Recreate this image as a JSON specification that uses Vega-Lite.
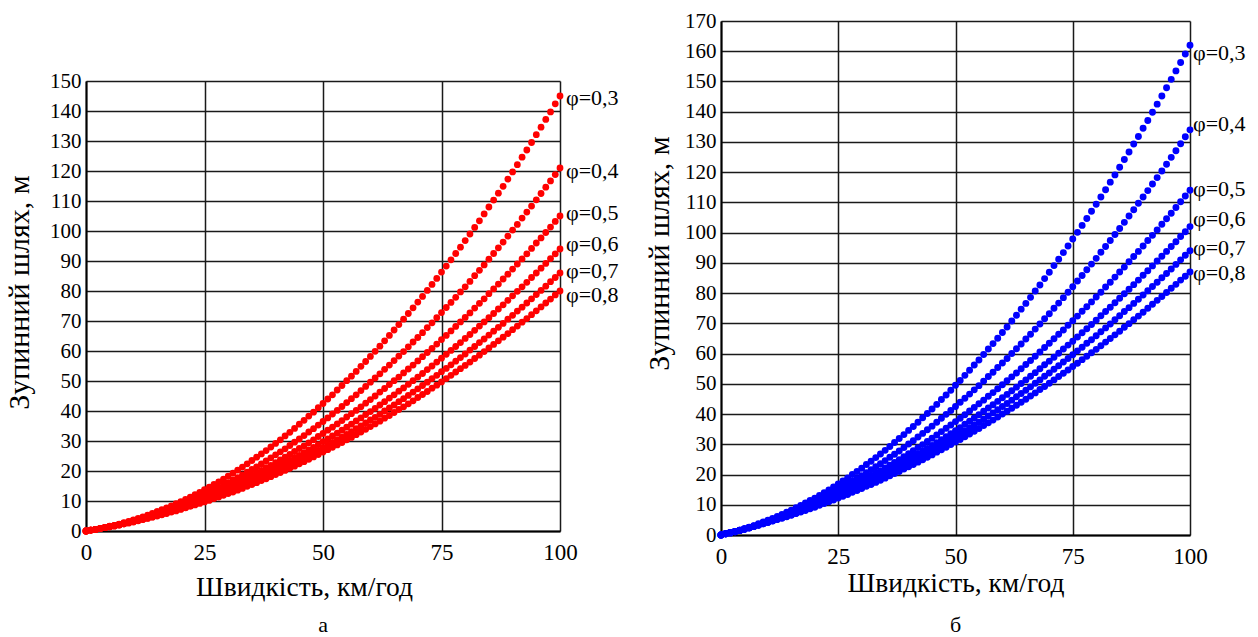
{
"$schema": "https://vega.github.io/schema/vega-lite/v6.json",
"background": "white",
"padding": {"left": 4, "top": 10, "right": 5, "bottom": 0},
"datasets": {
"curves": [
{"v":0,"l3":0,"l4":0,"l5":0,"l6":0,"l7":0,"l8":0,"r3":0,"r4":0,"r5":0,"r6":0,"r7":0,"r8":0},
{"v":1,"l3":0.3,"l4":0.3,"l5":0.3,"l6":0.3,"l7":0.3,"l8":0.3,"r3":0.4,"r4":0.4,"r5":0.4,"r6":0.4,"r7":0.4,"r8":0.4},
{"v":2,"l3":0.5,"l4":0.5,"l5":0.5,"l6":0.5,"l7":0.5,"l8":0.5,"r3":0.8,"r4":0.8,"r5":0.8,"r6":0.7,"r7":0.7,"r8":0.7},
{"v":3,"l3":0.9,"l4":0.8,"l5":0.8,"l6":0.8,"l7":0.8,"l8":0.8,"r3":1.2,"r4":1.2,"r5":1.2,"r6":1.1,"r7":1.1,"r8":1.1},
{"v":4,"l3":1.2,"l4":1.2,"l5":1.1,"l6":1.1,"l7":1.1,"l8":1.1,"r3":1.6,"r4":1.6,"r5":1.6,"r6":1.5,"r7":1.5,"r8":1.5},
{"v":5,"l3":1.6,"l4":1.5,"l5":1.5,"l6":1.4,"l7":1.4,"l8":1.4,"r3":2.1,"r4":2.0,"r5":2.0,"r6":2.0,"r7":1.9,"r8":1.9},
{"v":6,"l3":1.9,"l4":1.8,"l5":1.8,"l6":1.7,"l7":1.7,"l8":1.7,"r3":2.6,"r4":2.5,"r5":2.4,"r6":2.4,"r7":2.4,"r8":2.3},
{"v":7,"l3":2.3,"l4":2.2,"l5":2.1,"l6":2.1,"l7":2.0,"l8":2.0,"r3":3.1,"r4":3.0,"r5":2.9,"r6":2.8,"r7":2.8,"r8":2.8},
{"v":8,"l3":2.8,"l4":2.6,"l5":2.5,"l6":2.4,"l7":2.4,"l8":2.4,"r3":3.7,"r4":3.5,"r5":3.4,"r6":3.3,"r7":3.3,"r8":3.2},
{"v":9,"l3":3.2,"l4":3.0,"l5":2.9,"l6":2.8,"l7":2.7,"l8":2.7,"r3":4.3,"r4":4.0,"r5":3.9,"r6":3.8,"r7":3.7,"r8":3.7},
{"v":10,"l3":3.7,"l4":3.5,"l5":3.3,"l6":3.2,"l7":3.1,"l8":3.0,"r3":4.9,"r4":4.6,"r5":4.4,"r6":4.3,"r7":4.2,"r8":4.1},
{"v":11,"l3":4.2,"l4":3.9,"l5":3.7,"l6":3.6,"l7":3.5,"l8":3.4,"r3":5.5,"r4":5.1,"r5":4.9,"r6":4.8,"r7":4.7,"r8":4.6},
{"v":12,"l3":4.7,"l4":4.4,"l5":4.2,"l6":4.0,"l7":3.9,"l8":3.8,"r3":6.1,"r4":5.7,"r5":5.4,"r6":5.3,"r7":5.2,"r8":5.1},
{"v":13,"l3":5.3,"l4":4.9,"l5":4.6,"l6":4.4,"l7":4.3,"l8":4.2,"r3":6.8,"r4":6.3,"r5":6.0,"r6":5.8,"r7":5.7,"r8":5.5},
{"v":14,"l3":5.9,"l4":5.4,"l5":5.1,"l6":4.9,"l7":4.7,"l8":4.6,"r3":7.5,"r4":7.0,"r5":6.6,"r6":6.3,"r7":6.2,"r8":6.0},
{"v":15,"l3":6.5,"l4":5.9,"l5":5.6,"l6":5.3,"l7":5.1,"l8":5.0,"r3":8.2,"r4":7.6,"r5":7.2,"r6":6.9,"r7":6.7,"r8":6.5},
{"v":16,"l3":7.1,"l4":6.5,"l5":6.0,"l6":5.8,"l7":5.6,"l8":5.4,"r3":9.0,"r4":8.3,"r5":7.8,"r6":7.4,"r7":7.2,"r8":7.1},
{"v":17,"l3":7.7,"l4":7.0,"l5":6.6,"l6":6.2,"l7":6.0,"l8":5.8,"r3":9.8,"r4":9.0,"r5":8.4,"r6":8.0,"r7":7.8,"r8":7.6},
{"v":18,"l3":8.4,"l4":7.6,"l5":7.1,"l6":6.7,"l7":6.5,"l8":6.3,"r3":10.6,"r4":9.7,"r5":9.0,"r6":8.6,"r7":8.4,"r8":8.1},
{"v":19,"l3":9.1,"l4":8.2,"l5":7.6,"l6":7.2,"l7":7.0,"l8":6.7,"r3":11.4,"r4":10.4,"r5":9.7,"r6":9.2,"r7":8.9,"r8":8.7},
{"v":20,"l3":9.8,"l4":8.8,"l5":8.2,"l6":7.8,"l7":7.4,"l8":7.2,"r3":12.2,"r4":11.1,"r5":10.3,"r6":9.8,"r7":9.5,"r8":9.2},
{"v":21,"l3":10.5,"l4":9.5,"l5":8.8,"l6":8.3,"l7":7.9,"l8":7.7,"r3":13.1,"r4":11.9,"r5":11.0,"r6":10.5,"r7":10.1,"r8":9.8},
{"v":22,"l3":11.3,"l4":10.1,"l5":9.4,"l6":8.8,"l7":8.5,"l8":8.2,"r3":14.0,"r4":12.7,"r5":11.7,"r6":11.1,"r7":10.7,"r8":10.4},
{"v":23,"l3":12.1,"l4":10.8,"l5":10.0,"l6":9.4,"l7":9.0,"l8":8.7,"r3":14.9,"r4":13.5,"r5":12.4,"r6":11.8,"r7":11.3,"r8":11.0},
{"v":24,"l3":12.9,"l4":11.5,"l5":10.6,"l6":10.0,"l7":9.5,"l8":9.2,"r3":15.9,"r4":14.3,"r5":13.1,"r6":12.4,"r7":12.0,"r8":11.6},
{"v":25,"l3":13.8,"l4":12.3,"l5":11.3,"l6":10.6,"l7":10.1,"l8":9.7,"r3":16.9,"r4":15.1,"r5":13.9,"r6":13.1,"r7":12.6,"r8":12.2},
{"v":26,"l3":14.6,"l4":13.0,"l5":11.9,"l6":11.2,"l7":10.6,"l8":10.2,"r3":17.9,"r4":16.0,"r5":14.6,"r6":13.8,"r7":13.3,"r8":12.8},
{"v":27,"l3":15.5,"l4":13.7,"l5":12.6,"l6":11.8,"l7":11.2,"l8":10.8,"r3":18.9,"r4":16.9,"r5":15.4,"r6":14.5,"r7":13.9,"r8":13.4},
{"v":28,"l3":16.4,"l4":14.5,"l5":13.3,"l6":12.4,"l7":11.8,"l8":11.3,"r3":20.0,"r4":17.8,"r5":16.2,"r6":15.3,"r7":14.6,"r8":14.1},
{"v":29,"l3":17.3,"l4":15.3,"l5":14.0,"l6":13.1,"l7":12.4,"l8":11.9,"r3":21.0,"r4":18.7,"r5":17.0,"r6":16.0,"r7":15.3,"r8":14.7},
{"v":30,"l3":18.3,"l4":16.1,"l5":14.7,"l6":13.7,"l7":13.0,"l8":12.5,"r3":22.1,"r4":19.6,"r5":17.8,"r6":16.7,"r7":16.0,"r8":15.4},
{"v":31,"l3":19.3,"l4":17.0,"l5":15.4,"l6":14.4,"l7":13.6,"l8":13.0,"r3":23.3,"r4":20.6,"r5":18.7,"r6":17.5,"r7":16.7,"r8":16.1},
{"v":32,"l3":20.3,"l4":17.8,"l5":16.2,"l6":15.1,"l7":14.2,"l8":13.6,"r3":24.4,"r4":21.6,"r5":19.5,"r6":18.3,"r7":17.5,"r8":16.7},
{"v":33,"l3":21.3,"l4":18.7,"l5":17.0,"l6":15.8,"l7":14.9,"l8":14.2,"r3":25.6,"r4":22.6,"r5":20.4,"r6":19.1,"r7":18.2,"r8":17.4},
{"v":34,"l3":22.4,"l4":19.6,"l5":17.7,"l6":16.5,"l7":15.6,"l8":14.9,"r3":26.8,"r4":23.6,"r5":21.3,"r6":19.9,"r7":18.9,"r8":18.1},
{"v":35,"l3":23.5,"l4":20.5,"l5":18.6,"l6":17.2,"l7":16.2,"l8":15.5,"r3":28.0,"r4":24.6,"r5":22.2,"r6":20.7,"r7":19.7,"r8":18.8},
{"v":36,"l3":24.6,"l4":21.4,"l5":19.4,"l6":17.9,"l7":16.9,"l8":16.1,"r3":29.3,"r4":25.7,"r5":23.1,"r6":21.5,"r7":20.5,"r8":19.6},
{"v":37,"l3":25.7,"l4":22.4,"l5":20.2,"l6":18.7,"l7":17.6,"l8":16.8,"r3":30.6,"r4":26.7,"r5":24.0,"r6":22.4,"r7":21.3,"r8":20.3},
{"v":38,"l3":26.8,"l4":23.4,"l5":21.1,"l6":19.5,"l7":18.3,"l8":17.4,"r3":31.9,"r4":27.8,"r5":24.9,"r6":23.2,"r7":22.1,"r8":21.0},
{"v":39,"l3":28.0,"l4":24.4,"l5":21.9,"l6":20.2,"l7":19.0,"l8":18.1,"r3":33.2,"r4":28.9,"r5":25.9,"r6":24.1,"r7":22.9,"r8":21.8},
{"v":40,"l3":29.2,"l4":25.4,"l5":22.8,"l6":21.0,"l7":19.8,"l8":18.8,"r3":34.6,"r4":30.1,"r5":26.9,"r6":25.0,"r7":23.7,"r8":22.6},
{"v":41,"l3":30.4,"l4":26.4,"l5":23.7,"l6":21.8,"l7":20.5,"l8":19.5,"r3":35.9,"r4":31.2,"r5":27.9,"r6":25.9,"r7":24.5,"r8":23.3},
{"v":42,"l3":31.7,"l4":27.4,"l5":24.6,"l6":22.7,"l7":21.3,"l8":20.2,"r3":37.3,"r4":32.4,"r5":28.9,"r6":26.8,"r7":25.4,"r8":24.1},
{"v":43,"l3":32.9,"l4":28.5,"l5":25.5,"l6":23.5,"l7":22.0,"l8":20.9,"r3":38.8,"r4":33.6,"r5":29.9,"r6":27.7,"r7":26.2,"r8":24.9},
{"v":44,"l3":34.2,"l4":29.6,"l5":26.5,"l6":24.4,"l7":22.8,"l8":21.6,"r3":40.2,"r4":34.8,"r5":30.9,"r6":28.6,"r7":27.1,"r8":25.7},
{"v":45,"l3":35.6,"l4":30.7,"l5":27.5,"l6":25.2,"l7":23.6,"l8":22.4,"r3":41.7,"r4":36.0,"r5":32.0,"r6":29.6,"r7":27.9,"r8":26.5},
{"v":46,"l3":36.9,"l4":31.8,"l5":28.4,"l6":26.1,"l7":24.4,"l8":23.1,"r3":43.2,"r4":37.3,"r5":33.1,"r6":30.5,"r7":28.8,"r8":27.4},
{"v":47,"l3":38.3,"l4":33.0,"l5":29.4,"l6":27.0,"l7":25.2,"l8":23.9,"r3":44.8,"r4":38.6,"r5":34.2,"r6":31.5,"r7":29.7,"r8":28.2},
{"v":48,"l3":39.6,"l4":34.1,"l5":30.4,"l6":27.9,"l7":26.1,"l8":24.7,"r3":46.3,"r4":39.9,"r5":35.3,"r6":32.5,"r7":30.6,"r8":29.0},
{"v":49,"l3":41.1,"l4":35.3,"l5":31.5,"l6":28.8,"l7":26.9,"l8":25.5,"r3":47.9,"r4":41.2,"r5":36.4,"r6":33.5,"r7":31.6,"r8":29.9},
{"v":50,"l3":42.5,"l4":36.5,"l5":32.5,"l6":29.8,"l7":27.8,"l8":26.3,"r3":49.5,"r4":42.5,"r5":37.5,"r6":34.5,"r7":32.5,"r8":30.8},
{"v":51,"l3":44.0,"l4":37.7,"l5":33.6,"l6":30.7,"l7":28.6,"l8":27.1,"r3":51.1,"r4":43.9,"r5":38.6,"r6":35.5,"r7":33.4,"r8":31.6},
{"v":52,"l3":45.4,"l4":39.0,"l5":34.6,"l6":31.7,"l7":29.5,"l8":27.9,"r3":52.8,"r4":45.2,"r5":39.8,"r6":36.6,"r7":34.4,"r8":32.5},
{"v":53,"l3":47.0,"l4":40.2,"l5":35.7,"l6":32.6,"l7":30.4,"l8":28.7,"r3":54.5,"r4":46.6,"r5":41.0,"r6":37.6,"r7":35.4,"r8":33.4},
{"v":54,"l3":48.5,"l4":41.5,"l5":36.8,"l6":33.6,"l7":31.3,"l8":29.5,"r3":56.2,"r4":48.0,"r5":42.2,"r6":38.7,"r7":36.4,"r8":34.3},
{"v":55,"l3":50.1,"l4":42.8,"l5":38.0,"l6":34.6,"l7":32.2,"l8":30.4,"r3":57.9,"r4":49.4,"r5":43.4,"r6":39.8,"r7":37.3,"r8":35.2},
{"v":56,"l3":51.6,"l4":44.1,"l5":39.1,"l6":35.6,"l7":33.1,"l8":31.2,"r3":59.7,"r4":50.9,"r5":44.6,"r6":40.9,"r7":38.3,"r8":36.2},
{"v":57,"l3":53.2,"l4":45.4,"l5":40.2,"l6":36.7,"l7":34.1,"l8":32.1,"r3":61.5,"r4":52.4,"r5":45.9,"r6":42.0,"r7":39.4,"r8":37.1},
{"v":58,"l3":54.9,"l4":46.8,"l5":41.4,"l6":37.7,"l7":35.0,"l8":33.0,"r3":63.3,"r4":53.8,"r5":47.1,"r6":43.1,"r7":40.4,"r8":38.0},
{"v":59,"l3":56.5,"l4":48.2,"l5":42.6,"l6":38.8,"l7":36.0,"l8":33.9,"r3":65.1,"r4":55.4,"r5":48.4,"r6":44.2,"r7":41.4,"r8":39.0},
{"v":60,"l3":58.2,"l4":49.6,"l5":43.8,"l6":39.8,"l7":37.0,"l8":34.8,"r3":67.0,"r4":56.9,"r5":49.7,"r6":45.4,"r7":42.5,"r8":40.0},
{"v":61,"l3":59.9,"l4":51.0,"l5":45.0,"l6":40.9,"l7":37.9,"l8":35.7,"r3":68.8,"r4":58.4,"r5":51.0,"r6":46.5,"r7":43.5,"r8":40.9},
{"v":62,"l3":61.6,"l4":52.4,"l5":46.3,"l6":42.0,"l7":38.9,"l8":36.6,"r3":70.8,"r4":60.0,"r5":52.3,"r6":47.7,"r7":44.6,"r8":41.9},
{"v":63,"l3":63.4,"l4":53.9,"l5":47.5,"l6":43.1,"l7":40.0,"l8":37.6,"r3":72.7,"r4":61.6,"r5":53.6,"r6":48.9,"r7":45.7,"r8":42.9},
{"v":64,"l3":65.2,"l4":55.3,"l5":48.8,"l6":44.3,"l7":41.0,"l8":38.5,"r3":74.7,"r4":63.2,"r5":55.0,"r6":50.1,"r7":46.8,"r8":43.9},
{"v":65,"l3":67.0,"l4":56.8,"l5":50.1,"l6":45.4,"l7":42.0,"l8":39.5,"r3":76.6,"r4":64.8,"r5":56.4,"r6":51.3,"r7":47.9,"r8":44.9},
{"v":66,"l3":68.8,"l4":58.3,"l5":51.3,"l6":46.6,"l7":43.1,"l8":40.5,"r3":78.6,"r4":66.4,"r5":57.7,"r6":52.5,"r7":49.0,"r8":46.0},
{"v":67,"l3":70.6,"l4":59.8,"l5":52.7,"l6":47.7,"l7":44.1,"l8":41.4,"r3":80.7,"r4":68.1,"r5":59.1,"r6":53.7,"r7":50.2,"r8":47.0},
{"v":68,"l3":72.5,"l4":61.4,"l5":54.0,"l6":48.9,"l7":45.2,"l8":42.4,"r3":82.7,"r4":69.8,"r5":60.5,"r6":55.0,"r7":51.3,"r8":48.1},
{"v":69,"l3":74.4,"l4":63.0,"l5":55.3,"l6":50.1,"l7":46.3,"l8":43.4,"r3":84.8,"r4":71.5,"r5":62.0,"r6":56.3,"r7":52.5,"r8":49.1},
{"v":70,"l3":76.3,"l4":64.5,"l5":56.7,"l6":51.3,"l7":47.4,"l8":44.5,"r3":86.9,"r4":73.2,"r5":63.4,"r6":57.5,"r7":53.6,"r8":50.2},
{"v":71,"l3":78.2,"l4":66.1,"l5":58.1,"l6":52.5,"l7":48.5,"l8":45.5,"r3":89.1,"r4":75.0,"r5":64.9,"r6":58.8,"r7":54.8,"r8":51.3},
{"v":72,"l3":80.2,"l4":67.8,"l5":59.5,"l6":53.8,"l7":49.6,"l8":46.5,"r3":91.2,"r4":76.7,"r5":66.4,"r6":60.1,"r7":56.0,"r8":52.4},
{"v":73,"l3":82.2,"l4":69.4,"l5":60.9,"l6":55.0,"l7":50.8,"l8":47.6,"r3":93.4,"r4":78.5,"r5":67.8,"r6":61.5,"r7":57.2,"r8":53.5},
{"v":74,"l3":84.2,"l4":71.1,"l5":62.3,"l6":56.3,"l7":51.9,"l8":48.6,"r3":95.6,"r4":80.3,"r5":69.4,"r6":62.8,"r7":58.4,"r8":54.6},
{"v":75,"l3":86.3,"l4":72.8,"l5":63.8,"l6":57.6,"l7":53.1,"l8":49.7,"r3":97.9,"r4":82.1,"r5":70.9,"r6":64.1,"r7":59.6,"r8":55.7},
{"v":76,"l3":88.3,"l4":74.5,"l5":65.2,"l6":58.9,"l7":54.2,"l8":50.8,"r3":100.1,"r4":84.0,"r5":72.4,"r6":65.5,"r7":60.9,"r8":56.8},
{"v":77,"l3":90.4,"l4":76.2,"l5":66.7,"l6":60.2,"l7":55.4,"l8":51.9,"r3":102.4,"r4":85.8,"r5":74.0,"r6":66.9,"r7":62.1,"r8":58.0},
{"v":78,"l3":92.5,"l4":77.9,"l5":68.2,"l6":61.5,"l7":56.6,"l8":53.0,"r3":104.7,"r4":87.7,"r5":75.5,"r6":68.2,"r7":63.4,"r8":59.1},
{"v":79,"l3":94.6,"l4":79.7,"l5":69.7,"l6":62.8,"l7":57.8,"l8":54.1,"r3":107.1,"r4":89.6,"r5":77.1,"r6":69.6,"r7":64.6,"r8":60.3},
{"v":80,"l3":96.8,"l4":81.4,"l5":71.2,"l6":64.2,"l7":59.0,"l8":55.2,"r3":109.4,"r4":91.5,"r5":78.7,"r6":71.0,"r7":65.9,"r8":61.4},
{"v":81,"l3":99.0,"l4":83.2,"l5":72.7,"l6":65.5,"l7":60.3,"l8":56.3,"r3":111.8,"r4":93.5,"r5":80.3,"r6":72.5,"r7":67.2,"r8":62.6},
{"v":82,"l3":101.2,"l4":85.1,"l5":74.3,"l6":66.9,"l7":61.5,"l8":57.5,"r3":114.2,"r4":95.4,"r5":82.0,"r6":73.9,"r7":68.5,"r8":63.8},
{"v":83,"l3":103.4,"l4":86.9,"l5":75.9,"l6":68.3,"l7":62.8,"l8":58.6,"r3":116.7,"r4":97.4,"r5":83.6,"r6":75.3,"r7":69.8,"r8":65.0},
{"v":84,"l3":105.7,"l4":88.7,"l5":77.4,"l6":69.7,"l7":64.0,"l8":59.8,"r3":119.1,"r4":99.4,"r5":85.3,"r6":76.8,"r7":71.2,"r8":66.2},
{"v":85,"l3":108.0,"l4":90.6,"l5":79.1,"l6":71.1,"l7":65.3,"l8":61.0,"r3":121.6,"r4":101.4,"r5":87.0,"r6":78.3,"r7":72.5,"r8":67.4},
{"v":86,"l3":110.3,"l4":92.5,"l5":80.7,"l6":72.5,"l7":66.6,"l8":62.2,"r3":124.2,"r4":103.4,"r5":88.6,"r6":79.8,"r7":73.9,"r8":68.7},
{"v":87,"l3":112.6,"l4":94.4,"l5":82.3,"l6":74.0,"l7":67.9,"l8":63.4,"r3":126.7,"r4":105.5,"r5":90.4,"r6":81.3,"r7":75.2,"r8":69.9},
{"v":88,"l3":114.9,"l4":96.3,"l5":84.0,"l6":75.4,"l7":69.2,"l8":64.6,"r3":129.3,"r4":107.6,"r5":92.1,"r6":82.8,"r7":76.6,"r8":71.2},
{"v":89,"l3":117.3,"l4":98.3,"l5":85.6,"l6":76.9,"l7":70.6,"l8":65.8,"r3":131.8,"r4":109.7,"r5":93.8,"r6":84.3,"r7":78.0,"r8":72.4},
{"v":90,"l3":119.7,"l4":100.3,"l5":87.3,"l6":78.4,"l7":71.9,"l8":67.1,"r3":134.5,"r4":111.8,"r5":95.6,"r6":85.9,"r7":79.4,"r8":73.7},
{"v":91,"l3":122.1,"l4":102.2,"l5":89.0,"l6":79.9,"l7":73.3,"l8":68.3,"r3":137.1,"r4":113.9,"r5":97.4,"r6":87.4,"r7":80.8,"r8":75.0},
{"v":92,"l3":124.6,"l4":104.3,"l5":90.7,"l6":81.4,"l7":74.6,"l8":69.6,"r3":139.8,"r4":116.1,"r5":99.1,"r6":89.0,"r7":82.2,"r8":76.3},
{"v":93,"l3":127.0,"l4":106.3,"l5":92.4,"l6":82.9,"l7":76.0,"l8":70.8,"r3":142.5,"r4":118.2,"r5":100.9,"r6":90.6,"r7":83.6,"r8":77.6},
{"v":94,"l3":129.5,"l4":108.3,"l5":94.2,"l6":84.5,"l7":77.4,"l8":72.1,"r3":145.2,"r4":120.4,"r5":102.8,"r6":92.2,"r7":85.1,"r8":78.9},
{"v":95,"l3":132.1,"l4":110.4,"l5":96.0,"l6":86.0,"l7":78.8,"l8":73.4,"r3":147.9,"r4":122.6,"r5":104.6,"r6":93.8,"r7":86.5,"r8":80.2},
{"v":96,"l3":134.6,"l4":112.5,"l5":97.7,"l6":87.6,"l7":80.2,"l8":74.7,"r3":150.7,"r4":124.9,"r5":106.4,"r6":95.4,"r7":88.0,"r8":81.6},
{"v":97,"l3":137.2,"l4":114.6,"l5":99.5,"l6":89.2,"l7":81.6,"l8":76.0,"r3":153.5,"r4":127.1,"r5":108.3,"r6":97.0,"r7":89.5,"r8":82.9},
{"v":98,"l3":139.7,"l4":116.7,"l5":101.3,"l6":90.8,"l7":83.1,"l8":77.3,"r3":156.3,"r4":129.4,"r5":110.2,"r6":98.7,"r7":91.0,"r8":84.3},
{"v":99,"l3":142.4,"l4":118.8,"l5":103.2,"l6":92.4,"l7":84.5,"l8":78.7,"r3":159.1,"r4":131.7,"r5":112.1,"r6":100.3,"r7":92.5,"r8":85.6},
{"v":100,"l3":145.0,"l4":121.0,"l5":105.0,"l6":94.0,"l7":86.0,"l8":80.0,"r3":162.0,"r4":134.0,"r5":114.0,"r6":102.0,"r7":94.0,"r8":87.0}
],
"labA": [
{"v":100,"s":144.4,"t":"φ=0,3"},
{"v":100,"s":120.0,"t":"φ=0,4"},
{"v":100,"s":106.1,"t":"φ=0,5"},
{"v":100,"s":95.8,"t":"φ=0,6"},
{"v":100,"s":86.7,"t":"φ=0,7"},
{"v":100,"s":78.7,"t":"φ=0,8"}
],
"labB": [
{"v":100,"s":159.5,"t":"φ=0,3"},
{"v":100,"s":135.8,"t":"φ=0,4"},
{"v":100,"s":114.3,"t":"φ=0,5"},
{"v":100,"s":104.4,"t":"φ=0,6"},
{"v":100,"s":95.0,"t":"φ=0,7"},
{"v":100,"s":86.7,"t":"φ=0,8"}
]
},
"config": {
"font": "Liberation Serif",
"view": {"stroke": null},
"axis": {"grid": true, "gridColor": "#1a1a1a", "gridWidth": 1.5, "gridOpacity": 1, "domainColor": "#000000", "domainWidth": 2, "ticks": false, "labelColor": "#000000", "labelFont": "Liberation Serif", "titleFont": "Liberation Serif", "titleFontWeight": "normal", "titleColor": "#000000", "labelFlush": false, "labelOverlap": false},
"title": {"font": "Liberation Serif", "fontSize": 22, "fontWeight": "normal", "color": "#000000"}
},
"spacing": 25,
"hconcat": [
{
"spacing": 0,
"bounds": "flush",
"vconcat": [
{"width": 474, "height": 60, "data": {"values": []}, "mark": "point", "encoding": {}},
{
"width": 474,
"height": 450,
"title": {"text": "а", "orient": "bottom", "offset": 14, "font": "Liberation Serif", "fontSize": 22, "fontWeight": "normal"},
"data": {"name": "curves"},
"encoding": {
"x": {"field": "v", "type": "quantitative", "scale": {"domain": [0, 100], "nice": false},
"axis": {"values": [0, 25, 50, 75, 100], "title": "Швидкість, км/год", "labelFont": "Liberation Serif", "titleFont": "Liberation Serif", "labelFontSize": 23, "titleFontSize": 27.5, "titleFontWeight": "normal", "labelPadding": 10, "titlePadding": 9, "titleX": 218, "labelOverlap": false, "labelFlush": false, "grid": true, "ticks": false}},
"y": {"field": "s", "type": "quantitative", "scale": {"domain": [0, 150], "nice": false},
"axis": {"values": [0,10,20,30,40,50,60,70,80,90,100,110,120,130,140,150], "title": "Зупинний шлях, м", "labelFont": "Liberation Serif", "titleFont": "Liberation Serif", "labelFontSize": 21, "titleFontSize": 30, "titleFontWeight": "normal", "labelPadding": 5, "titlePadding": 15, "titleY": 211, "labelOverlap": false, "grid": true, "ticks": false}}
},
"layer": [
{
"transform": [{"fold": ["l3", "l4", "l5", "l6", "l7", "l8"], "as": ["k", "s"]}],
"mark": {"type": "point", "filled": true, "size": 46, "opacity": 1, "color": "#ff0000"}
},
{
"data": {"name": "labA"},
"mark": {"type": "text", "align": "left", "baseline": "middle", "dx": 6, "fontSize": 22, "font": "Liberation Serif", "color": "#000000"},
"encoding": {"text": {"field": "t"}}
}
]
}
]
},
{
"width": 469,
"height": 514,
"title": {"text": "б", "orient": "bottom", "offset": 18, "font": "Liberation Serif", "fontSize": 22, "fontWeight": "normal"},
"data": {"name": "curves"},
"encoding": {
"x": {"field": "v", "type": "quantitative", "scale": {"domain": [0, 100], "nice": false},
"axis": {"values": [0, 25, 50, 75, 100], "title": "Швидкість, км/год", "labelFont": "Liberation Serif", "titleFont": "Liberation Serif", "labelFontSize": 23, "titleFontSize": 27.5, "titleFontWeight": "normal", "labelPadding": 10, "titlePadding": 1, "labelOverlap": false, "labelFlush": false, "grid": true, "ticks": false}},
"y": {"field": "s", "type": "quantitative", "scale": {"domain": [0, 170], "nice": false},
"axis": {"values": [0,10,20,30,40,50,60,70,80,90,100,110,120,130,140,150,160,170], "title": "Зупинний шлях, м", "labelFont": "Liberation Serif", "titleFont": "Liberation Serif", "labelFontSize": 21, "titleFontSize": 30, "titleFontWeight": "normal", "labelPadding": 5, "titlePadding": 10, "titleY": 232, "labelOverlap": false, "grid": true, "ticks": false}}
},
"layer": [
{
"transform": [{"fold": ["r3", "r4", "r5", "r6", "r7", "r8"], "as": ["k", "s"]}],
"mark": {"type": "point", "filled": true, "size": 48, "opacity": 1, "color": "#0000ff"}
},
{
"data": {"name": "labB"},
"mark": {"type": "text", "align": "left", "baseline": "middle", "dx": 3, "fontSize": 22, "font": "Liberation Serif", "color": "#000000"},
"encoding": {"text": {"field": "t"}}
}
]
}
]
}
